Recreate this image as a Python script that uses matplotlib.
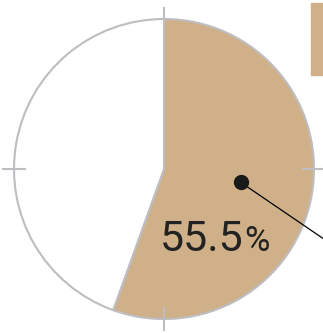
import numpy as np
import matplotlib
matplotlib.use("Agg")
import matplotlib.pyplot as plt
from matplotlib.patches import Rectangle

# share shown in the pie
values = [55.5, 44.5]
colors = ["#cfb089", "white"]
label_main = "55.5"
label_unit = "%"

W, H = 323, 333
fig = plt.figure(figsize=(W / 100, H / 100), dpi=100)
ax = fig.add_axes([0, 0, 1, 1])
ax.set_xlim(0, W)
ax.set_ylim(0, H)

cx, cy, r = 164, H - 169, 150
edge = "#bdbdc2"

ax.pie(values, colors=colors, startangle=90, counterclock=False,
       center=(cx, cy), radius=r,
       wedgeprops=dict(edgecolor=edge, linewidth=1.5))

# cross ticks at the four compass points
for dx, dy in [(0, 1), (0, -1), (1, 0), (-1, 0)]:
    px, py = cx + dx * r, cy + dy * r
    if dx == 0:
        ax.plot([px, px], [py - 11, py + 11], color=edge, lw=1.5)
    else:
        ax.plot([px - 11, px + 11], [py, py], color=edge, lw=1.5)

# leader dot at the middle of the coloured wedge
mid = np.deg2rad(90 - values[0] / 100 * 360 / 2)
dotx, doty = cx + 0.52 * r * np.cos(mid), cy + 0.52 * r * np.sin(mid)
ax.plot([dotx, dotx + 110], [doty, doty - 75], color="black", lw=0.9)
ax.plot(dotx, doty, "o", color="#1a1a1a", ms=10)

ax.set_xlim(0, W)
ax.set_ylim(0, H)
ax.set_aspect("auto")
ax.axis("off")

t = ax.text(160, H - 251, label_main, fontsize=31, family="Roboto",
            color="#222222", ha="left", va="baseline")
fig.canvas.draw()
bb = t.get_window_extent()
ax.text(bb.x1, H - 251, label_unit, fontsize=25, family="Roboto",
        color="#222222", ha="left", va="baseline")

# legend swatch, cut by the figure edge
ax.add_patch(Rectangle((311, H - 75), 20, 72, color=colors[0], clip_on=False))

fig.savefig("out.png", dpi=100)
